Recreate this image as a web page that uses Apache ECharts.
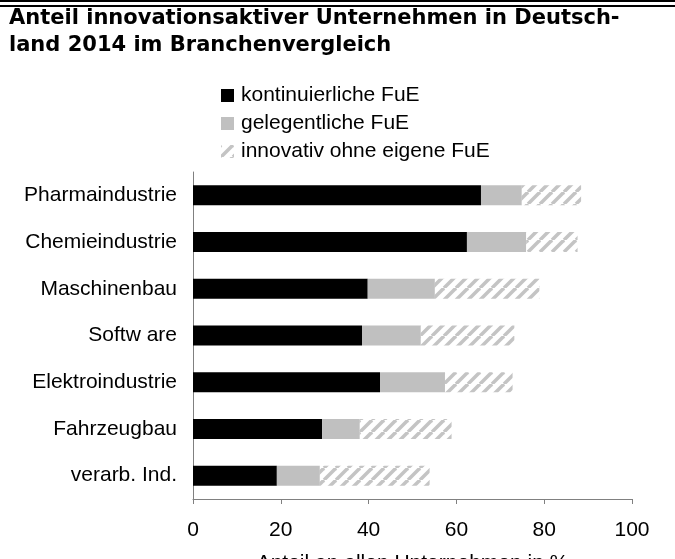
<!DOCTYPE html>
<html>
<head>
<meta charset="utf-8">
<script src="https://cdn.jsdelivr.net/npm/echarts@6/dist/echarts.min.js"></script>
<style>
html,body{margin:0;padding:0;background:#fff;}
#chart{width:675px;height:559px;}
</style>
</head>
<body>
<div id="chart"></div>
<script>
var categories = ['Pharmaindustrie','Chemieindustrie','Maschinenbau','Softw are','Elektroindustrie','Fahrzeugbau','verarb. Ind.'];
var kontinuierlich = [65.6, 62.4, 39.8, 38.5, 42.6, 29.4, 19.1];
var gelegentlich = [9.3, 13.5, 15.3, 13.4, 14.8, 8.6, 9.8];
var ohneFuE = [13.5, 11.7, 23.8, 21.3, 15.4, 20.9, 25.0];
var seriesNames = ['kontinuierliche FuE','gelegentliche FuE','innovativ ohne eigene FuE'];
var xTicks = [0, 20, 40, 60, 80, 100];

function hatch() {
  var c = document.createElement('canvas');
  c.width = 12; c.height = 12;
  var ctx = c.getContext('2d');
  ctx.fillStyle = '#ffffff';
  ctx.fillRect(0, 0, 12, 12);
  ctx.strokeStyle = '#c4c4c4';
  ctx.lineWidth = 3.5;
  [-12, 0, 12].forEach(function (o) {
    ctx.beginPath();
    ctx.moveTo(o, 12);
    ctx.lineTo(o + 12, 0);
    ctx.stroke();
  });
  return c;
}

var font = "'Liberation Sans', Arial, sans-serif";
var chart = echarts.init(document.getElementById('chart'), null, {renderer: 'canvas'});
var option = {
  animation: false,
  backgroundColor: '#ffffff',
  title: {
    text: 'Anteil innovationsaktiver Unternehmen in Deutsch-\nland 2014 im Branchenvergleich',
    left: 9, top: 5, padding: 0,
    textStyle: {fontFamily: "'DejaVu Sans'", fontWeight: 'bold', fontSize: 21, lineHeight: 27, color: '#000'}
  },
  graphic: [
    {type: 'rect', shape: {x: 0, y: 0, width: 675, height: 2}, style: {fill: '#000'}},
    {type: 'rect', shape: {x: 0, y: 5, width: 675, height: 2}, style: {fill: '#000'}}
  ],
  legend: {
    orient: 'vertical', left: 221, top: 85, padding: 0,
    itemWidth: 13, itemHeight: 13, itemGap: 7,
    icon: 'rect',
    textStyle: {fontFamily: font, fontSize: 21, color: '#000', padding: [0,0,0,2]},
    data: seriesNames
  },
  grid: {left: 193, right: 43, top: 172, bottom: 60, containLabel: false, outerBoundsMode: 'none'},
  xAxis: {
    type: 'value', min: 0, max: 100, interval: 20,
    name: 'Anteil an allen Unternehmen in %', nameLocation: 'middle', nameGap: 54,
    nameTextStyle: {fontFamily: font, fontSize: 21, color: '#000'},
    axisLine: {show: true, lineStyle: {color: '#808080', width: 1}},
    axisTick: {show: true, length: 5, lineStyle: {color: '#808080'}},
    axisLabel: {fontFamily: font, fontSize: 21, color: '#000', margin: 21,
      formatter: function (v) { return xTicks.indexOf(v) >= 0 ? String(v) : ''; }},
    splitLine: {show: false}
  },
  yAxis: {
    type: 'category', data: categories, inverse: true,
    axisLine: {show: true, lineStyle: {color: '#808080', width: 1}},
    axisTick: {show: false},
    axisLabel: {fontFamily: font, fontSize: 21, color: '#000', margin: 16}
  },
  series: [
    {name: seriesNames[0], type: 'bar', stack: 'a', barWidth: 20, data: kontinuierlich,
     itemStyle: {color: '#000000'}},
    {name: seriesNames[1], type: 'bar', stack: 'a', barWidth: 20, data: gelegentlich,
     itemStyle: {color: '#c0c0c0'}},
    {name: seriesNames[2], type: 'bar', stack: 'a', barWidth: 20, data: ohneFuE,
     itemStyle: {color: {image: hatch(), repeat: 'repeat'}}}
  ]
};
chart.setOption(option);
</script>
</body>
</html>
